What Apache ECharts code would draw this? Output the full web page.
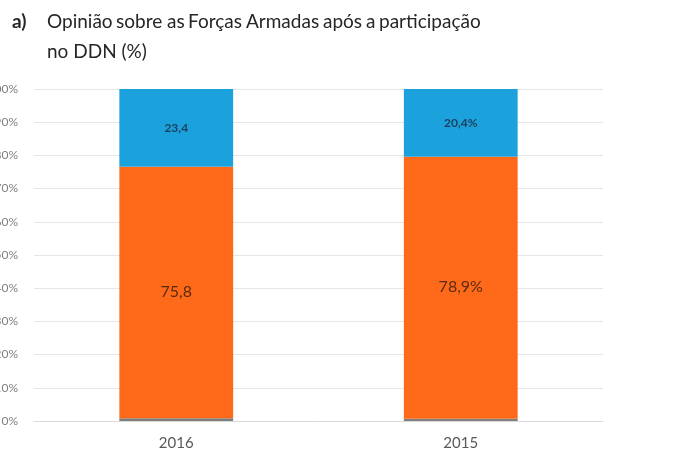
<!DOCTYPE html>
<html>
<head>
<meta charset="utf-8">
<script src="https://cdn.jsdelivr.net/npm/echarts@6/dist/echarts.min.js"></script>
<style>
    html, body { margin: 0; padding: 0; background: #fff; }
    #chart { width: 680px; height: 475px; }
</style>
</head>
<body>
<div id="chart"></div>
<script>
    // data
    var categories = ['2016', '2015'];
    var baseValues = [0.8, 0.7];
    var negativeValues = [75.8, 78.9];
    var positiveValues = [23.4, 20.4];
    var negativeLabels = ['75,8', '78,9%'];
    var positiveLabels = ['23,4', '20,4%'];
    var yTicks = [0, 10, 20, 30, 40, 50, 60, 70, 80, 90, 100];

    var titleWords = ['Opinião', 'sobre', 'as', 'Forças', 'Armadas', 'após', 'a', 'participação'];
    var titleFont = '19px Lato';

    //justify first line of the title between two x positions
    function justifyWords(words, x0, x1, font) {
        var ctx = document.createElement('canvas').getContext('2d');
        ctx.font = font;
        var widths = words.map(function (w) { return ctx.measureText(w).width; });
        var total = widths.reduce(function (a, b) { return a + b; }, 0);
        var gap = (x1 - x0 - total) / (words.length - 1);
        var x = x0;
        return words.map(function (w, i) {
            var el = {
                type: 'text',
                left: Math.round(x),
                top: 12,
                style: { text: w, font: titleFont, fill: '#262626' }
            };
            x += widths[i] + gap;
            return el;
        });
    }

    var myChart = echarts.init(document.getElementById('chart'));

    var graphics = justifyWords(titleWords, 47, 481, titleFont);
    graphics.push({
        type: 'text', left: 12, top: 12,
        style: { text: 'a)', font: 'bold 19px Lato', fill: '#262626' }
    });
    graphics.push({
        type: 'text', left: 47, top: 42,
        style: { text: 'no DDN (%)', font: titleFont, fill: '#262626' }
    });

    var option = {
        animation: false,
        graphic: graphics,
        grid: { left: 34, right: 77, top: 89, bottom: 54, outerBoundsMode: 'none', containLabel: false },
        xAxis: {
            type: 'category',
            data: categories,
            axisLine: { show: true, lineStyle: { color: '#d9d9d9' } },
            axisTick: { show: false },
            axisLabel: { color: '#595959', fontSize: 15, fontFamily: 'Lato', margin: 15 }
        },
        yAxis: {
            type: 'value',
            min: yTicks[0],
            max: yTicks[yTicks.length - 1],
            interval: 10,
            axisLine: { show: false },
            axisTick: { show: false },
            splitLine: { lineStyle: { color: '#e6e6e6' } },
            axisLabel: {
                color: '#7f7f7f', fontSize: 12, fontFamily: 'Lato', margin: 16,
                formatter: function (v) { return v + '%'; }
            }
        },
        series: [{
            type: 'bar',
            stack: 'total',
            barWidth: '40%',
            data: baseValues,
            itemStyle: { color: '#7f7f7f' }
        }, {
            type: 'bar',
            stack: 'total',
            data: negativeValues,
            itemStyle: { color: '#fe6a19' },
            label: {
                show: true,
                position: 'inside',
                offset: [0, -1],
                color: '#5a2a10',
                fontSize: 16,
                fontFamily: 'Lato',
                formatter: function (p) { return negativeLabels[p.dataIndex]; }
            }
        }, {
            type: 'bar',
            stack: 'total',
            data: positiveValues,
            itemStyle: { color: '#1ba1dc' },
            label: {
                show: true,
                position: 'inside',
                color: '#1d3f5e',
                fontSize: 12,
                fontWeight: 'bold',
                fontFamily: 'Lato',
                formatter: function (p) { return positiveLabels[p.dataIndex]; }
            }
        }]
    };

    myChart.setOption(option);
</script>
</body>
</html>
